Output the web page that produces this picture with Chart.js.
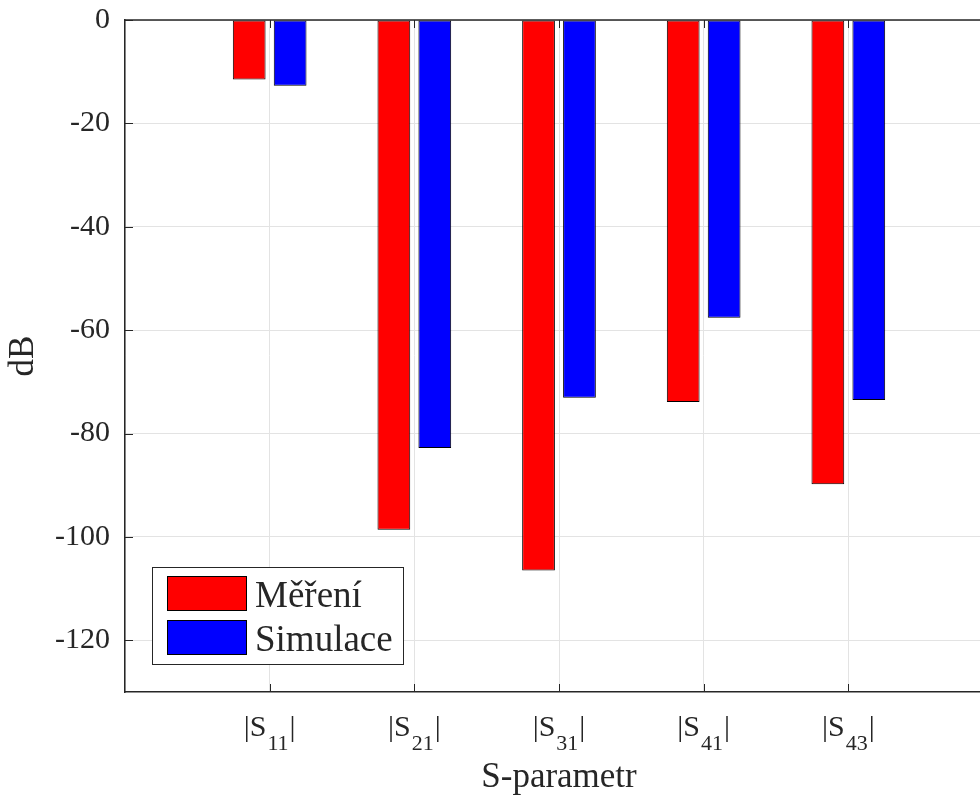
<!DOCTYPE html>
<html>
<head>
<meta charset="utf-8">
<script src="https://cdn.jsdelivr.net/npm/chart.js@4/dist/chart.umd.min.js"></script>
<style>
	html, body { margin: 0; padding: 0; background: #fff; overflow: hidden; }
	#wrap { width: 995px; height: 800px; }
</style>
</head>
<body>
<div id="wrap"><canvas id="sparam" width="995" height="800"></canvas></div>
<script>
//
// Hodnoty (dB)
//
const subscripts = [ "11", "21", "31", "41", "43" ];
const mereni = [ -11.5, -98.6, -106.5, -73.9, -89.8 ];
const simulace = [ -12.7, -82.8, -73.1, -57.6, -73.5 ];
const y_ticks = [ 0, -20, -40, -60, -80, -100, -120 ];

// prázdné kategorie na okrajích (xlim 0..6)
const labels = [ "" ].concat( subscripts.map( s => "|S" + s + "|" ), [ "" ] );
const pad = arr => [ null ].concat( arr, [ null ] );

const ink = "#262626";
const serif = "'Liberation Serif', 'Times New Roman', serif";

//
// Popisky osy x s dolním indexem, vnitřní značky a horní okraj
//
const axes_extra = {
	id: "axes_extra",
	afterDatasetsDraw( chart ) {
		const ctx = chart.ctx;
		const area = chart.chartArea;
		const x = chart.scales.x;
		const y = chart.scales.y;
		ctx.save();
		ctx.strokeStyle = ink;
		ctx.lineWidth = 1.5;
		ctx.beginPath();
		ctx.moveTo( area.left, area.top );
		ctx.lineTo( area.right, area.top );
		ctx.stroke();
		ctx.lineWidth = 1;
		ctx.beginPath();
		y_ticks.forEach( v => {
			const py = Math.round( y.getPixelForValue( v ) ) + 0.5;
			ctx.moveTo( area.left, py );
			ctx.lineTo( area.left + 8, py );
		} );
		subscripts.forEach( ( s, i ) => {
			const px = Math.round( x.getPixelForValue( i + 1 ) ) + 0.5;
			ctx.moveTo( px, area.bottom );
			ctx.lineTo( px, area.bottom - 8 );
			ctx.moveTo( px, area.top );
			ctx.lineTo( px, area.top + 8 );
		} );
		ctx.stroke();
		ctx.restore();
	},
	afterDraw( chart ) {
		const ctx = chart.ctx;
		const x = chart.scales.x;
		ctx.save();
		ctx.fillStyle = ink;
		ctx.textBaseline = "alphabetic";
		ctx.textAlign = "left";
		const main_font = "30px " + serif;
		const sub_font = "22px " + serif;
		subscripts.forEach( ( s, i ) => {
			const cx = x.getPixelForValue( i + 1 );
			ctx.font = main_font;
			const w1 = ctx.measureText( "|S" ).width;
			const w3 = ctx.measureText( "|" ).width;
			ctx.font = sub_font;
			const w2 = ctx.measureText( s ).width + 2;
			let px = cx - ( w1 + w2 + w3 ) / 2;
			ctx.font = main_font;
			ctx.fillText( "|S", px, 736 );
			ctx.font = sub_font;
			ctx.fillText( s, px + w1 + 1, 750 );
			ctx.font = main_font;
			ctx.fillText( "|", px + w1 + w2, 736 );
		} );

		// legenda vlevo dole uvnitř grafu
		const ds = chart.data.datasets;
		ctx.fillStyle = "#fff";
		ctx.fillRect( 152, 567, 251, 97 );
		ctx.strokeStyle = ink;
		ctx.lineWidth = 1;
		ctx.strokeRect( 152.5, 567.5, 251, 97 );
		ctx.font = "37px " + serif;
		ds.forEach( ( d, i ) => {
			const top = 576 + i * 44;
			ctx.fillStyle = d.backgroundColor;
			ctx.fillRect( 167, top, 80, 35 );
			ctx.strokeStyle = "#000";
			ctx.strokeRect( 167.5, top + 0.5, 79, 34 );
			ctx.fillStyle = ink;
			ctx.fillText( d.label, 255, top + 31 );
		} );
		ctx.restore();
	}
};

new Chart( document.getElementById( "sparam" ),
	{
		type: "bar",
		data: {
			labels: labels,
			datasets: [
				{
					label: "Měření",
					data: pad( mereni ),
					backgroundColor: "#ff0000",
					borderColor: "#000000",
					borderWidth: 1,
					borderSkipped: false
				},
				{
					label: "Simulace",
					data: pad( simulace ),
					backgroundColor: "#0000ff",
					borderColor: "#000000",
					borderWidth: 1,
					borderSkipped: false
				}
			]
		},
		plugins: [ axes_extra ],
		options: {
			responsive: false,
			animation: false,
			datasets: {
				bar: {
					categoryPercentage: 0.566,
					barPercentage: 0.8
				}
			},
			layout: {
				padding: { top: 20, right: 2, bottom: 0, left: 0 }
			},
			plugins: {
				legend: { display: false },
				tooltip: { enabled: false }
			},
			scales: {
				x: {
					offset: false,
					afterFit: scale => { scale.height = 108; },
					grid: {
						color: "#e3e3e3",
						offset: false,
						drawTicks: false
					},
					border: { color: ink, width: 1.5 },
					ticks: { display: false, autoSkip: false },
					title: {
						display: true,
						text: "S-parametr",
						color: ink,
						font: { size: 35, family: serif },
						padding: { top: 0, bottom: 1 }
					}
				},
				y: {
					min: -130,
					max: 0,
					afterFit: scale => { scale.width = 125; },
					afterBuildTicks: scale => {
						scale.ticks = y_ticks.map( v => ( { value: v } ) );
					},
					grid: {
						color: "#e3e3e3",
						drawTicks: true,
						tickLength: 15,
						tickColor: "rgba(0,0,0,0)"
					},
					border: { color: ink, width: 1.5 },
					ticks: {
						color: ink,
						padding: 0,
						font: { size: 30, family: serif }
					},
					title: {
						display: true,
						text: "dB",
						color: ink,
						font: { size: 35, family: serif },
						padding: { top: 3, bottom: 0 }
					}
				}
			}
		}
	} );
</script>
</body>
</html>
